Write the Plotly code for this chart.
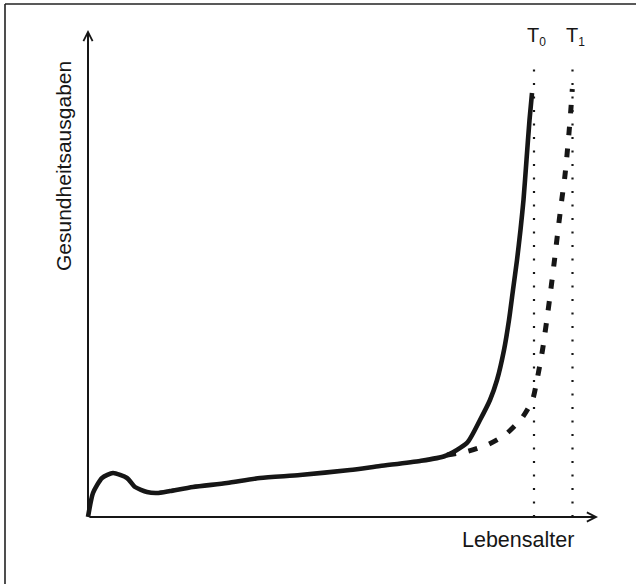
import plotly.graph_objects as go

# ---- data (age axis 0..100, spending axis 0..100) ----
solid_age = [0, 0.98, 2.75, 4.90, 7.65, 9.22, 11.57, 13.53, 16.08, 20.59, 27.25, 33.73,
             41.57, 51.37, 57.25, 65.10, 70.0, 74.31, 76.86, 78.82, 80.20, 81.57,
             82.55, 83.33, 84.12, 84.80, 85.39, 85.98, 86.57, 87.06]
solid_cost = [0, 4.93, 8.01, 9.03, 8.01, 6.16, 5.13, 4.93, 5.34, 6.16, 6.98, 8.01,
              8.62, 9.65, 10.47, 11.50, 12.53, 15.20, 19.92, 24.02, 28.13, 34.29,
              40.45, 46.61, 52.77, 58.93, 65.09, 73.31, 81.52, 87.06]

dashed_age = [70.39, 73.92, 78.24, 81.76, 85.10, 87.16, 88.04, 89.12, 90.49, 91.47,
              92.16, 92.94, 93.49, 93.92, 94.31, 94.67, 94.96]
dashed_cost = [12.73, 13.35, 14.78, 16.84, 20.33, 24.02, 28.13, 34.29, 44.56, 52.77,
               58.93, 65.50, 69.82, 74.33, 78.85, 83.57, 87.89]

t_labels = ["T<sub><span style='font-size:12px;color:#161616'>0</span></sub>",
            "T<sub><span style='font-size:12px;color:#161616'>1</span></sub>"]
t_ages = [87.45, 95.0]
t_top = 92.0

x_title = "Lebensalter"
y_title = "Gesundheitsausgaben"

# ---- layout geometry (pixels) ----
W, H = 636, 584
ORIG_X, ORIG_Y = 88, 517
X_TIP, Y_TIP = 598, 30
sx = (X_TIP - ORIG_X) / 100.0
sy = (ORIG_Y - Y_TIP) / 100.0
x_range = [-ORIG_X / sx, (W - ORIG_X) / sx]
y_range = [-(H - ORIG_Y) / sy, ORIG_Y / sy]

INK = "#161616"
FONT = "Liberation Sans, Arial, Helvetica, sans-serif"

fig = go.Figure()

# dotted verticals
for xa in t_ages:
    fig.add_trace(go.Scatter(x=[xa, xa], y=[0, t_top], mode="lines",
                             line=dict(color=INK, width=2.2, dash="2px,11.5px"),
                             hoverinfo="skip", showlegend=False))

fig.add_trace(go.Scatter(x=dashed_age, y=dashed_cost, mode="lines",
                         line=dict(color=INK, width=5, dash="9px,13px", shape="spline", smoothing=0.6),
                         hoverinfo="skip", showlegend=False))
fig.add_trace(go.Scatter(x=solid_age, y=solid_cost, mode="lines",
                         line=dict(color=INK, width=4.6, shape="spline", smoothing=0.6),
                         hoverinfo="skip", showlegend=False))

annotations = [
    # axes with arrows
    dict(x=100, y=0, ax=0, ay=0, xref="x", yref="y", axref="x", ayref="y", text="",
         showarrow=True, arrowhead=5, arrowsize=0.9, arrowwidth=2, arrowcolor=INK, standoff=0),
    dict(x=0, y=100, ax=0, ay=0, xref="x", yref="y", axref="x", ayref="y", text="",
         showarrow=True, arrowhead=5, arrowsize=0.9, arrowwidth=2, arrowcolor=INK, standoff=0),
    dict(x=(518 - ORIG_X) / sx, y=(ORIG_Y - 540) / sy, xref="x", yref="y", text=x_title,
         showarrow=False, font=dict(family=FONT, size=21.5, color=INK)),
    dict(x=(63 - ORIG_X) / sx, y=(ORIG_Y - 166) / sy, xref="x", yref="y", text=y_title,
         textangle=-90, showarrow=False, font=dict(family=FONT, size=21, color=INK)),
]
for lab, xa in zip(t_labels, t_ages):
    annotations.append(dict(x=xa + 2.5 / sx, y=(ORIG_Y - 36) / sy, xref="x", yref="y", text=lab,
                            showarrow=False, font=dict(family=FONT, size=20, color=INK)))

shapes = [
    dict(type="line", xref="paper", yref="paper", x0=5 / W, x1=1, y0=1 - 4 / H, y1=1 - 4 / H,
         line=dict(color="#222", width=1.6)),
    dict(type="line", xref="paper", yref="paper", x0=5 / W, x1=5 / W, y0=0, y1=1 - 4 / H,
         line=dict(color="#222", width=1.6)),
]

fig.update_layout(
    width=W, height=H, autosize=False,
    margin=dict(l=0, r=0, t=0, b=0),
    paper_bgcolor="white", plot_bgcolor="white",
    xaxis=dict(range=x_range, visible=False, fixedrange=True),
    yaxis=dict(range=y_range, visible=False, fixedrange=True),
    annotations=annotations, shapes=shapes,
    showlegend=False,
)

fig.write_html("out.html",
               post_script="document.body.style.margin='0';document.body.style.overflow='hidden';",
               config={"displayModeBar": False})
